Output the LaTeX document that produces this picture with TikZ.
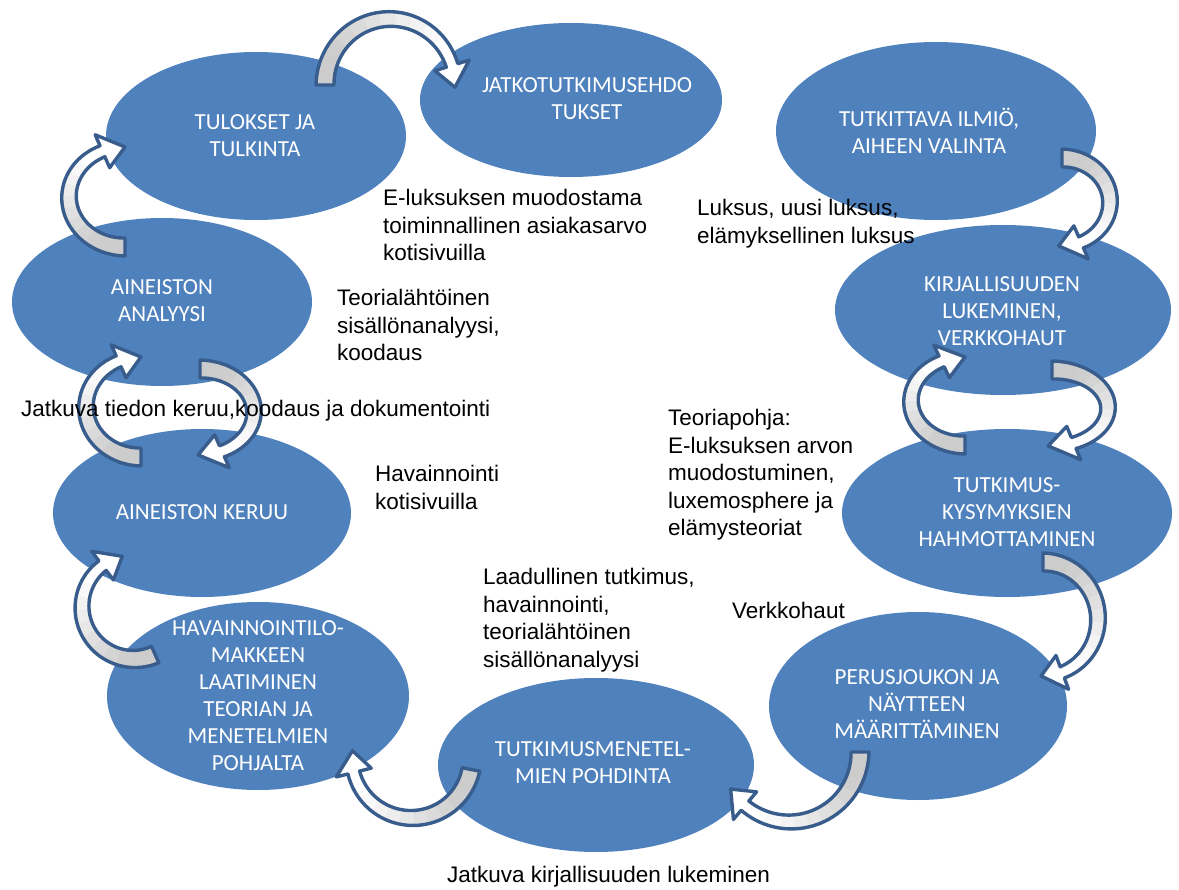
\documentclass[tikz,border=0pt]{standalone}
\usepackage{fontspec}
\setmainfont{Liberation Sans}
\newfontfamily\calibfont{Carlito}
\usetikzlibrary{shapes.geometric}
\definecolor{bubblue}{RGB}{79,129,189}
\definecolor{arrline}{RGB}{56,93,140}

% band half width (tapering) and head half width
\def\W{(9-3*(\tv-\Aa)/(\Ae-\Aa))}
\def\Hw{18}

\newcommand{\arrshape}[1]{%
  \path[#1] plot[domain=\Aa:\Ae, samples=40, variable=\tv]
      ({\Cx+(\Rx+\W)*cos(\tv)},{\Cy+(\Ry+\W)*sin(\tv)})
    -- ({\Cx+(\Rx+\Hw)*cos(\Ae)},{\Cy+(\Ry+\Hw)*sin(\Ae)})
    -- ({\Cx+\Rx*cos(\Ab)},{\Cy+\Ry*sin(\Ab)})
    -- ({\Cx+(\Rx-\Hw)*cos(\Ae)},{\Cy+(\Ry-\Hw)*sin(\Ae)})
    -- plot[domain=\Ae:\Aa, samples=40, variable=\tv]
      ({\Cx+(\Rx-\W)*cos(\tv)},{\Cy+(\Ry-\W)*sin(\tv)})
    -- cycle;}

% #1 cx, #2 cy, #3 rx, #4 ry, #5 tail angle, #6 tip angle (image orientation)
\newcommand{\cyarrow}[6]{%
  \pgfmathsetmacro\Cx{#1}\pgfmathsetmacro\Cy{#2}%
  \pgfmathsetmacro\Rx{#3}\pgfmathsetmacro\Ry{#4}%
  \pgfmathsetmacro\Aa{#5}\pgfmathsetmacro\Ab{#6}%
  \pgfmathsetmacro\Ae{\Ab-22/((\Rx+\Ry)/2)*57.2958}%
  \arrshape{fill=white}%
  \foreach \k in {0,...,9}{%
    \pgfmathsetmacro\sA{\Aa+(\Ae-\Aa)*\k/12}%
    \pgfmathsetmacro\sB{\Aa+(\Ae-\Aa)*(\k+1.2)/12}%
    \pgfmathsetmacro\pp{max(0,min(20,24*(1-\k/10)))}%
    \fill[black!\pp!white] plot[domain=\sA:\sB, samples=5, variable=\tv]
       ({\Cx+(\Rx+\W)*cos(\tv)},{\Cy+(\Ry+\W)*sin(\tv)})
     -- plot[domain=\sB:\sA, samples=5, variable=\tv]
       ({\Cx+(\Rx-\W)*cos(\tv)},{\Cy+(\Ry-\W)*sin(\tv)}) -- cycle;
  }%
  \arrshape{draw=arrline, line width=3.4pt, line join=round}%
}

\begin{document}
\begin{tikzpicture}[x=1pt,y=-1pt,
  bubble/.style={ellipse, fill=bubblue, draw=none, inner sep=0pt},
  btext/.style={font=\calibfont\fontsize{23}{27}\selectfont, text=white, align=center, inner sep=0pt},
  note/.style={font=\fontsize{22.5}{27.5}\selectfont, text=black, align=left, inner sep=0pt, anchor=north west}]
\fill[white] (0,0) rectangle (1179,890);
\useasboundingbox (0,0) rectangle (1179,890);

% ellipses
\node[bubble, minimum width=300pt, minimum height=168pt] (tul) at (256,136) {};
\node[bubble, minimum width=302pt, minimum height=154pt] (jat) at (571,100) {};
\node[bubble, minimum width=320pt, minimum height=178pt] (tut) at (936,131) {};
\node[bubble, minimum width=336pt, minimum height=170pt] (kir) at (1003,310) {};
\node[bubble, minimum width=330pt, minimum height=168pt] (kys) at (1007,513) {};
\node[bubble, minimum width=298pt, minimum height=188pt] (per) at (918,706) {};
\node[bubble, minimum width=316pt, minimum height=174pt] (men) at (596,765) {};
\node[bubble, minimum width=302pt, minimum height=188pt] (hav) at (258,696) {};
\node[bubble, minimum width=298pt, minimum height=168pt] (ker) at (202,513) {};
\node[bubble, minimum width=300pt, minimum height=168pt] (ana) at (162,302) {};

% curved block arrows
\cyarrow{390}{85}{65}{66}{180}{362}    % tul -> jat
\cyarrow{1062}{202}{48}{44}{-90}{94}   % tut -> kir
\cyarrow{1052}{408}{56}{38}{-90}{94}   % kir -> kys
\cyarrow{965}{401}{54}{44}{90}{270}    % kys -> kir
\cyarrow{1043}{619}{55}{57}{-90}{92}   % kys -> per
\cyarrow{790}{752}{70}{70}{0}{148}     % per -> men
\cyarrow{412}{758}{60}{60}{11}{187}    % men -> hav
\cyarrow{134}{607}{52}{52}{66}{257}    % hav -> ker
\cyarrow{141}{407}{55}{50}{90}{270}    % ker -> ana
\cyarrow{200}{412}{54}{43}{-90}{92}    % ana -> ker
\cyarrow{125}{197}{56}{50}{90}{270}    % ana -> tul

% ellipse texts
\node[btext] (tulT) at (255,136) {TULOKSET JA\\TULKINTA};
\node[btext] (jatT) at (587,99) {JATKOTUTKIMUSEHDO\\TUKSET};
\node[btext] (tutT) at (929,131) {TUTKITTAVA ILMIÖ,\\AIHEEN VALINTA};
\node[btext] (kirT) at (1002,311) {KIRJALLISUUDEN\\LUKEMINEN,\\VERKKOHAUT};
\node[btext] (kysT) at (1007,512) {TUTKIMUS-\\KYSYMYKSIEN\\HAHMOTTAMINEN};
\node[btext] (perT) at (917,704) {PERUSJOUKON JA\\NÄYTTEEN\\MÄÄRITTÄMINEN};
\node[btext] (menT) at (593,763) {TUTKIMUSMENETEL-\\MIEN POHDINTA};
\node[btext] (havT) at (258,696) {HAVAINNOINTILO-\\MAKKEEN\\LAATIMINEN\\TEORIAN JA\\MENETELMIEN\\POHJALTA};
\node[btext] (kerT) at (202,512) {AINEISTON KERUU};
\node[btext] (anaT) at (162,301) {AINEISTON\\ANALYYSI};

% notes
\node[note] (n1) at (383,189) {E-luksuksen muodostama\\toiminnallinen asiakasarvo\\kotisivuilla};
\node[note] (n2) at (697,199) {Luksus, uusi luksus,\\elämyksellinen luksus};
\node[note] (n3) at (337,289) {Teorialähtöinen\\sisällönanalyysi,\\koodaus};
\node[note] (n4) at (21,400) {Jatkuva tiedon keruu,koodaus ja dokumentointi};
\node[note] (n5) at (375,465) {Havainnointi\\kotisivuilla};
\node[note] (n6) at (668,409) {Teoriapohja:\\E-luksuksen arvon\\muodostuminen,\\luxemosphere ja\\elämysteoriat};
\node[note] (n7) at (483,568) {Laadullinen tutkimus,\\havainnointi,\\teorialähtöinen\\sisällönanalyysi};
\node[note] (n8) at (732,602) {Verkkohaut};
\node[note] (n9) at (447,866) {Jatkuva kirjallisuuden lukeminen};
\end{tikzpicture}
\end{document}
